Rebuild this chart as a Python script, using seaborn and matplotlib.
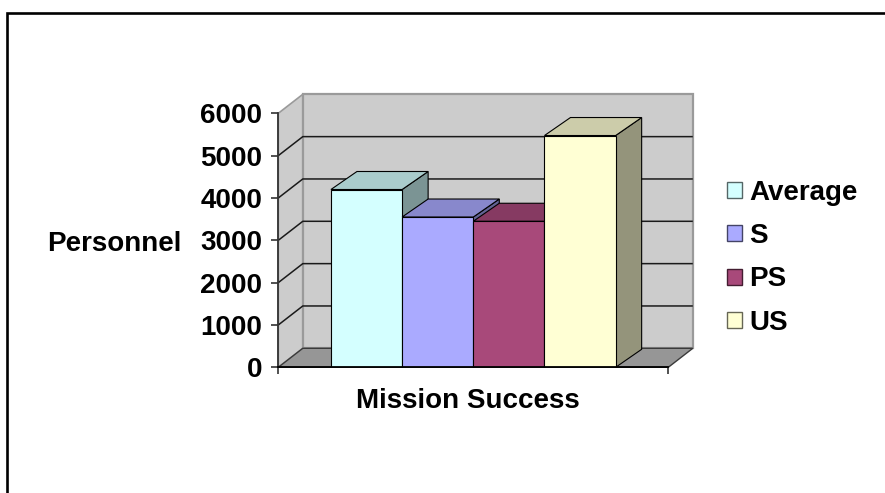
import numpy as np
import pandas as pd
import matplotlib
matplotlib.use('Agg')
import matplotlib.pyplot as plt
import seaborn as sns
from matplotlib.patches import Polygon, Rectangle, Patch
from matplotlib.colors import to_rgb

# chart data
categories = ['Mission Success']
series = ['Average', 'S', 'PS', 'US']
values = [4200, 3550, 3450, 5475]
colors = ['#D4FFFF', '#AAAAFF', '#A8497A', '#FFFFD4']
yticks = [0, 1000, 2000, 3000, 4000, 5000, 6000]

sns.set_style('white')
plt.rcParams['font.family'] = ['Liberation Sans', 'DejaVu Sans']
plt.rcParams['font.weight'] = 'bold'
for key in ['text.color', 'axes.labelcolor', 'xtick.color', 'ytick.color']:
    plt.rcParams[key] = 'black'
FS = 20

df = pd.DataFrame({
    'group': categories * len(series),
    'series': series,
    'personnel': values,
})

fig = plt.figure(figsize=(8.85, 4.93), dpi=100)
ax = fig.add_axes([278.3 / 885, (493 - 367.3) / 493, 390 / 885, 254 / 493])
ax.set_facecolor('none')

sns.barplot(data=df, x='group', y='personnel', hue='series', hue_order=series,
            palette=colors, saturation=1, width=0.73, gap=0, errorbar=None,
            edgecolor='black', linewidth=0.8, legend=False, ax=ax)

ax.set_xlim(-0.5, 0.5)
ax.set_ylim(0, 6000)


def shade(c, f):
    return tuple(np.clip(np.array(to_rgb(c)) * f, 0, 1))


def shift(x, y, dxp, dyp):
    # move a data point by a pixel offset (fake depth)
    px = ax.transData.transform((x, y))
    return tuple(ax.transData.inverted().transform(px + np.array([dxp, dyp])))


WX, WY = 24.5, 19   # wall depth in px
BX, BY = 26, 18     # bar depth in px
wall = '#CCCCCC'

# side wall, back wall and floor
side = [(-0.5, 0), (-0.5, 6000), shift(-0.5, 6000, WX, WY), shift(-0.5, 0, WX, WY)]
ax.add_patch(Polygon(side, closed=True, facecolor=wall, edgecolor='#9a9a9a',
                     lw=1.2, zorder=0.5, clip_on=False))
backw = [shift(-0.5, 0, WX, WY), shift(0.5, 0, WX, WY),
         shift(0.5, 6000, WX, WY), shift(-0.5, 6000, WX, WY)]
ax.add_patch(Polygon(backw, closed=True, facecolor=wall, edgecolor='#9a9a9a',
                     lw=1.6, zorder=0.5, clip_on=False))
floor = [(-0.5, 0), (0.5, 0), shift(0.5, 0, WX, WY), shift(-0.5, 0, WX, WY)]
ax.add_patch(Polygon(floor, closed=True, facecolor='#969696', edgecolor='#3a3a3a',
                     lw=1.0, zorder=0.6, clip_on=False))

# gridlines on the side and back walls
for v in yticks[1:-1]:
    p0 = (-0.5, v)
    p1 = shift(-0.5, v, WX, WY)
    p2 = shift(0.5, v, WX, WY)
    ax.plot([p0[0], p1[0], p2[0]], [p0[1], p1[1], p2[1]], color='#1a1a1a',
            lw=1.1, zorder=0.7, clip_on=False, solid_capstyle='butt')

# 3d faces of the bars
for i, (p, c) in enumerate(zip(ax.patches[:len(series)], colors)):
    x0, w, h = p.get_x(), p.get_width(), p.get_height()
    z = 3 + 3 * i
    side_face = [(x0 + w, 0), (x0 + w, h), shift(x0 + w, h, BX, BY), shift(x0 + w, 0, BX, BY)]
    top_face = [(x0, h), (x0 + w, h), shift(x0 + w, h, BX, BY), shift(x0, h, BX, BY)]
    ax.add_patch(Polygon(side_face, closed=True, facecolor=shade(c, 0.58),
                         edgecolor='black', lw=0.8, zorder=z, clip_on=False))
    ax.add_patch(Polygon(top_face, closed=True, facecolor=shade(c, 0.8),
                         edgecolor='black', lw=0.8, zorder=z + 1, clip_on=False))
    p.set_zorder(z + 2)

# axes
for s in ['top', 'right']:
    ax.spines[s].set_visible(False)
ax.spines['left'].set_color('#333333')
ax.spines['left'].set_linewidth(1.3)
ax.spines['bottom'].set_color('black')
ax.spines['bottom'].set_linewidth(1.3)
for s in ['left', 'bottom']:
    ax.spines[s].set_zorder(50)

ax.set_yticks(yticks)
ax.set_yticklabels([str(t) for t in yticks])
ax.set_xticks([-0.5, 0.5], labels=['', ''])
ax.tick_params(axis='y', direction='out', length=5, width=1.2, pad=6.5,
               labelsize=FS, left=True, color='#333333', labelcolor='black')
ax.tick_params(axis='x', direction='out', length=5, width=1.2, bottom=True,
               color='#333333')
for t in ax.get_yticklabels():
    t.set_fontweight('bold')

ax.set_xlabel('Mission Success', fontsize=FS, fontweight='bold', color='black')
ax.xaxis.label.set_va('baseline')
ax.xaxis.set_label_coords(0.485, -0.161)
ax.set_ylabel('Personnel', fontsize=FS, fontweight='bold', rotation=0,
              ha='left', va='baseline', color='black')
ax.yaxis.set_label_coords(-0.592, 0.459)

# legend
handles = [Patch(facecolor=c, edgecolor=shade(c, 0.4), lw=1.0) for c in colors]
leg = fig.legend(handles, series, loc='upper left',
                 bbox_to_anchor=(727.3 / 885, (493 - 180) / 493),
                 frameon=False, borderpad=0, borderaxespad=0,
                 handlelength=0.52, handleheight=0.52, handletextpad=0.26,
                 labelspacing=0.62, prop={'size': FS, 'weight': 'bold'})
for t in leg.get_texts():
    t.set_color('black')

# outer frame (runs off the right and bottom edge)
fig.add_artist(Rectangle((7.3 / 885, -0.2), 1.5, (493 - 13.3) / 493 + 0.2,
                         transform=fig.transFigure, fill=False,
                         edgecolor='black', lw=1.9))

fig.savefig('out.png', dpi=100)
